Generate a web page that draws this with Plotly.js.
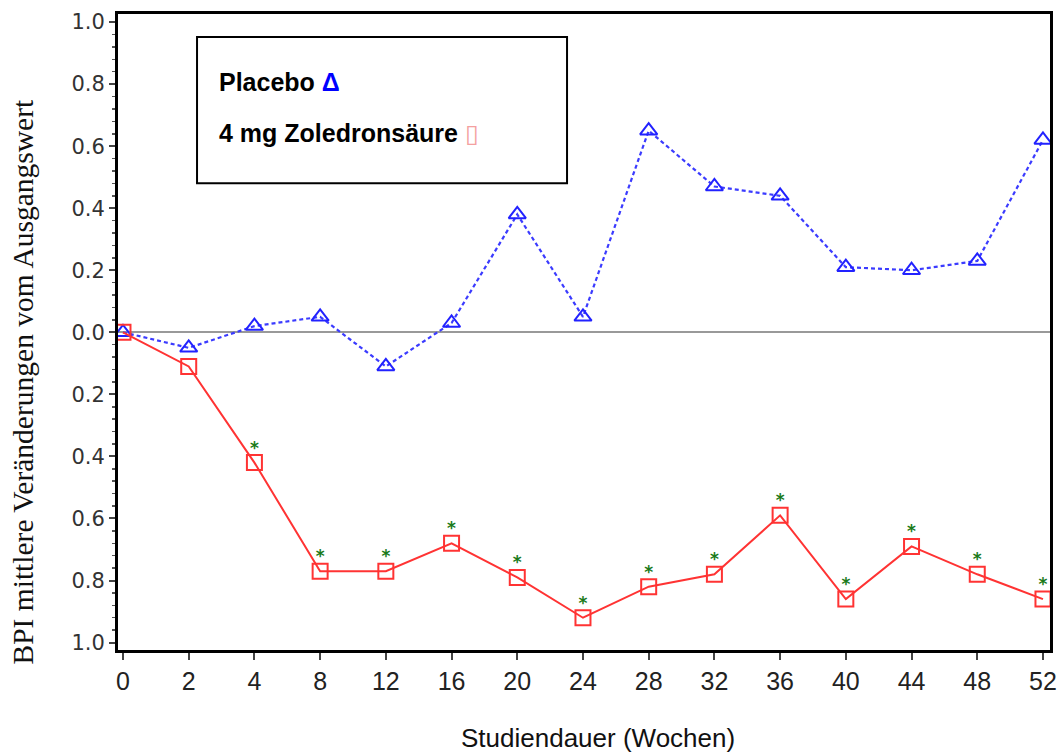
<!DOCTYPE html>
<html>
<head>
<meta charset="utf-8">
<script src="https://cdn.plot.ly/plotly-3.0.1.min.js"></script>
<style>html,body{margin:0;padding:0;background:#fff;}#chart{width:1061px;height:755px;}</style>
</head>
<body>
<div id="chart"></div>
<script>
const weeks = ['0','2','4','8','12','16','20','24','28','32','36','40','44','48','52'];
const placebo = [0, -0.05, 0.02, 0.05, -0.11, 0.03, 0.38, 0.05, 0.65, 0.47, 0.44, 0.21, 0.20, 0.23, 0.62];
const zoledron = [0, -0.11, -0.42, -0.77, -0.77, -0.68, -0.79, -0.92, -0.82, -0.78, -0.59, -0.86, -0.69, -0.78, -0.86];
const significant = [false, false, true, true, true, true, true, true, true, true, true, true, true, true, true];
const yTickVals = [-1.0, -0.8, -0.6, -0.4, -0.2, 0.0, 0.2, 0.4, 0.6, 0.8, 1.0];
const yTickText = ['1.0', '0.8', '0.6', '0.4', '0.2', '0.0', '0.2', '0.4', '0.6', '0.8', '1.0'];
const legendLabels = ['Placebo', '4 mg Zoledronsäure'];
const xTitle = 'Studiendauer (Wochen)';
const yTitle = 'BPI mittlere Veränderungen vom Ausgangswert';

const sigX = weeks.filter((w, i) => significant[i]);
const sigY = zoledron.filter((v, i) => significant[i]);

const traces = [
  {
    x: weeks, y: placebo, type: 'scatter', mode: 'lines+markers', name: legendLabels[0],
    line: {color: '#3b3bff', width: 2.2, dash: '4px,3px'},
    marker: {symbol: 'triangle-up-open', size: 15, color: '#2222ff', line: {width: 2, color: '#2222ff'}}
  },
  {
    x: weeks, y: zoledron, type: 'scatter', mode: 'lines+markers', name: legendLabels[1],
    line: {color: '#ff3333', width: 2},
    marker: {symbol: 'square-open', size: 15, color: '#ff3333', line: {width: 2, color: '#ff3333'}}
  },
  {
    x: sigX, y: sigY, type: 'scatter', mode: 'markers+text', text: sigX.map(() => '<b>*</b>'),
    textposition: 'top center', textfont: {family: 'DejaVu Sans', size: 17, color: '#1a7a1a'},
    marker: {size: 6, color: 'rgba(0,0,0,0)'}, hoverinfo: 'skip'
  }
];

const layout = {
  width: 1061, height: 755,
  margin: {l: 118, r: 11, t: 14, b: 105},
  paper_bgcolor: '#fff', plot_bgcolor: '#fff',
  showlegend: false,
  xaxis: {
    type: 'category', range: [-0.076, 14.107],
    showgrid: false, zeroline: false,
    showline: true, linecolor: '#000', linewidth: 3, mirror: true,
    ticks: 'outside', ticklen: 7, tickwidth: 2, tickcolor: '#444',
    tickfont: {family: 'Liberation Sans Narrow, Liberation Sans, Arial', size: 25, color: '#222'}
  },
  yaxis: {
    range: [-1.024, 1.026],
    tickmode: 'array', tickvals: yTickVals, ticktext: yTickText,
    showgrid: false,
    zeroline: true, zerolinecolor: '#999', zerolinewidth: 2,
    showline: true, linecolor: '#000', linewidth: 3, mirror: true,
    ticks: 'outside', ticklen: 6, tickwidth: 2, tickcolor: '#444',
    minor: {tick0: -1, dtick: 0.04, ticks: 'outside', ticklen: 3, tickwidth: 1.5, tickcolor: '#555'},
    tickfont: {family: 'DejaVu Sans', size: 21, color: '#333'}
  },
  shapes: [
    {type: 'rect', xref: 'paper', yref: 'paper', x0: 0.0848, x1: 0.4818, y0: 0.734, y1: 0.964,
     line: {color: '#000', width: 2}, fillcolor: 'rgba(255,255,255,0)'}
  ],
  annotations: [
    {xref: 'paper', yref: 'paper', x: 0.106, y: 0.893, xanchor: 'left', yanchor: 'middle', showarrow: false,
     text: '<b>' + legendLabels[0] + ' <span style="color:#0000ff">Δ</span></b>',
     font: {family: 'Liberation Sans, Arial', size: 25, color: '#000'}},
    {xref: 'paper', yref: 'paper', x: 0.106, y: 0.813, xanchor: 'left', yanchor: 'middle', showarrow: false,
     text: '<b>' + legendLabels[1] + '</b> <span style="color:#f4a0a0">▯</span>',
     font: {family: 'Liberation Sans, Arial', size: 25, color: '#000'}},
    {xref: 'paper', yref: 'paper', x: -0.102, y: 0.422, xanchor: 'center', yanchor: 'middle', showarrow: false,
     textangle: -90, text: yTitle,
     font: {family: 'Liberation Serif, Times New Roman, serif', size: 29.5, color: '#111'}},
    {xref: 'paper', yref: 'paper', x: 0.515, y: -0.138, xanchor: 'center', yanchor: 'middle', showarrow: false,
     text: xTitle,
     font: {family: 'Liberation Sans Narrow, Liberation Sans, Arial', size: 26, color: '#111'}}
  ]
};

Plotly.newPlot('chart', traces, layout, {displayModeBar: false, staticPlot: true});
</script>
</body>
</html>
